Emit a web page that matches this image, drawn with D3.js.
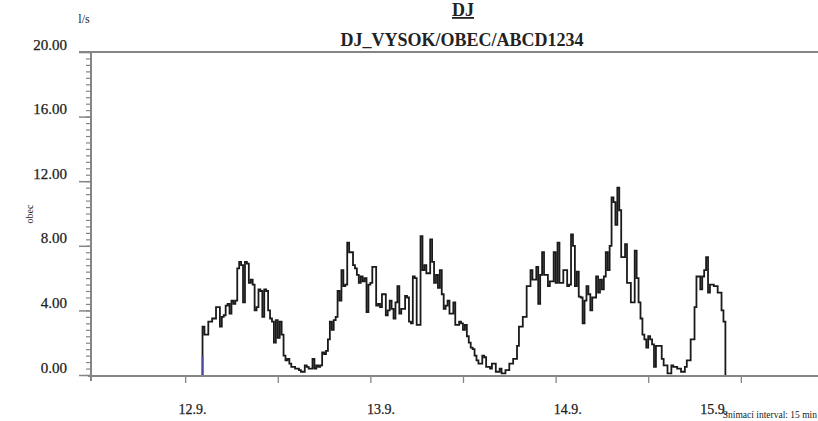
<!DOCTYPE html>
<html>
<head>
<meta charset="utf-8">
<script src="https://cdn.jsdelivr.net/npm/d3@7"></script>
<style>
  html, body { margin: 0; padding: 0; background: #fff; }
  svg { display: block; }
  text { font-family: "Liberation Serif", "Times New Roman", serif; fill: #222; }
</style>
</head>
<body>
<svg id="chart" width="818" height="421"></svg>
<script>
// ---- data ----
const titleMain = "DJ";
const titleSub = "DJ_VYSOK/OBEC/ABCD1234";
const unitLabel = "l/s";
const seriesName = "obec";
const footnote = "Snímací interval: 15 min";
// time in hours relative to 12.9. 00:00
const startHour = 2.25;
const stepHours = 0.25; // 15 min
const flow = [
  3.0, 2.5, 2.5, 3.3, 3.3, 3.5, 3.5, 4.2, 4.2, 3.0,
  3.6, 3.7, 4.3, 4.4, 3.8, 4.6, 4.4, 4.6, 6.6, 7.0,
  6.8, 4.5, 7.0, 6.9, 5.7, 5.9, 5.6, 4.0, 4.2, 5.3,
  5.2, 3.6, 5.3, 5.2, 4.0, 3.5, 3.3, 2.0, 3.4, 2.3,
  3.3, 2.5, 1.2, 0.9, 1.0, 0.7, 0.5, 0.5, 0.4, 0.4,
  0.3, 0.2, 0.2, 0.6, 0.5, 0.4, 0.4, 1.0, 0.4, 0.6,
  0.5, 0.6, 1.4, 1.3, 1.5, 2.2, 3.3, 2.8, 3.4, 3.6,
  5.2, 4.6, 6.5, 5.5, 5.6, 8.2, 7.6, 7.6, 6.8, 6.6,
  6.2, 5.7, 6.1, 5.8, 6.0, 3.9, 5.6, 5.7, 6.7, 6.7,
  4.3, 4.4, 4.2, 5.0, 5.0, 3.7, 4.0, 4.6, 4.1, 3.5,
  4.5, 5.5, 3.8, 4.1, 4.1, 4.9, 4.8, 3.3, 3.2, 6.1,
  6.0, 3.1, 3.1, 8.6, 6.5, 6.8, 6.3, 6.3, 8.4, 7.0,
  5.7, 6.2, 5.4, 6.5, 5.0, 4.1, 4.3, 4.6, 3.8, 3.8,
  4.5, 3.1, 3.1, 3.3, 3.2, 2.8, 3.1, 2.4, 2.0, 1.7,
  1.6, 1.2, 0.9, 0.7, 0.7, 1.2, 1.1, 0.5, 0.5, 0.4,
  0.7, 0.7, 0.2, 0.2, 0.4, 0.1, 0.1, 0.3, 0.3, 0.7,
  0.7, 1.0, 1.0, 1.8, 3.0, 3.0, 3.6, 3.6, 5.5, 5.5,
  6.5, 5.9, 5.9, 6.7, 4.4, 6.2, 7.6, 6.2, 6.2, 5.5,
  5.8, 5.8, 7.6, 5.7, 8.2, 5.7, 5.7, 6.5, 6.5, 5.5,
  5.6, 8.7, 8.0, 5.5, 6.4, 4.85, 4.8, 3.2, 4.6, 5.5,
  5.0, 4.0, 4.8, 4.8, 6.1, 5.1, 5.9, 5.3, 6.1, 7.6,
  6.5, 8.0, 11.0, 10.7, 9.3, 11.6, 10.2, 7.3, 7.3, 8.1,
  5.7, 5.7, 4.5, 4.5, 7.7, 6.0, 4.5, 3.5, 2.5, 2.2,
  1.7, 2.4, 2.2, 1.9, 0.5, 1.8, 1.8, 1.8, 1.0, 0.6,
  0.6, 0.1, 0.1, 0.6, 0.5, 0.5, 0.4, 0.4, 0.2, 0.2,
  0.5, 0.9, 0.9, 2.2, 2.2, 4.2, 6.1, 6.1, 5.3, 6.1,
  6.5, 7.3, 5.1, 5.6, 5.6, 5.5, 5.5, 5.1, 5.1, 4.0, 3.3
];
const startMarkerValue = 1.2;
const yMajorTicks = [0, 4, 8, 12, 16, 20];
const yMinorStep = 0.4;
const xTickHours = [0, 12, 24, 36, 48, 60, 72];
const dayLabels = ["12.9.", "13.9.", "14.9.", "15.9."];
const dayLabelHours = [0.9, 25.3, 49.5, 68.5];
const xDomain = [-12.2, 82.0];
const yDomain = [0, 20];

// ---- drawing ----
const svg = d3.select("#chart");
const x = d3.scaleLinear().domain(xDomain).range([91, 818]);
const y = d3.scaleLinear().domain(yDomain).range([375, 52]);
const axisColor = "#858585";
const textColor = "#1a1a1a";

// titles
svg.append("text").attr("x", 463).attr("y", 16).attr("text-anchor", "middle")
  .attr("font-size", 18).attr("font-weight", "bold").attr("text-decoration", "underline")
  .attr("fill", textColor).text(titleMain);
svg.append("text").attr("x", 462).attr("y", 46).attr("text-anchor", "middle")
  .attr("font-size", 18).attr("font-weight", "bold").attr("fill", textColor).text(titleSub);

// unit + series name
svg.append("text").attr("x", 84).attr("y", 23).attr("text-anchor", "middle")
  .attr("font-size", 12).attr("fill", textColor).text(unitLabel);
svg.append("text").attr("transform", "translate(33,214) rotate(-90)")
  .attr("text-anchor", "middle").attr("font-size", 10).attr("fill", textColor).text(seriesName);

// top border line
svg.append("line").attr("x1", 79).attr("x2", 818).attr("y1", y(20)).attr("y2", y(20))
  .attr("stroke", axisColor).attr("stroke-width", 2);

// y minor ticks
const minor = d3.range(0, yDomain[1] + 1e-6, yMinorStep).map(v => +v.toFixed(2));
const gyMinor = svg.append("g").attr("transform", "translate(91,0)")
  .call(d3.axisLeft(y).tickValues(minor).tickSize(5).tickFormat(""));
gyMinor.select(".domain").remove();
gyMinor.selectAll("line").attr("stroke", axisColor).attr("stroke-width", 1.2);

// y major ticks
const gy = svg.append("g").attr("transform", "translate(91,0)")
  .call(d3.axisLeft(y).tickValues(yMajorTicks).tickSize(12).tickPadding(12).tickFormat(d3.format(".2f")));
gy.select(".domain").remove();
gy.selectAll("line").attr("stroke", axisColor).attr("stroke-width", 1.5);
gy.selectAll("text").attr("font-size", 15).attr("dy", "-0.2em")
  .style("font-family", "'Liberation Serif', serif").attr("fill", textColor)
  .attr("stroke", textColor).attr("stroke-width", 0.25);

// axis lines
svg.append("line").attr("x1", 91).attr("x2", 91).attr("y1", y(20)).attr("y2", 381)
  .attr("stroke", axisColor).attr("stroke-width", 2);
svg.append("line").attr("x1", 88).attr("x2", 818).attr("y1", y(0) + 1).attr("y2", y(0) + 1)
  .attr("stroke", axisColor).attr("stroke-width", 2.2);

// x ticks
const gx = svg.append("g").attr("transform", `translate(0,${y(0) + 2})`)
  .call(d3.axisBottom(x).tickValues(xTickHours).tickSize(6).tickFormat(""));
gx.select(".domain").remove();
gx.selectAll("line").attr("stroke", axisColor).attr("stroke-width", 1.3);

// x day labels
const gxl = svg.append("g").attr("transform", `translate(0,${y(0) + 2})`)
  .call(d3.axisBottom(x).tickValues(dayLabelHours).tickSize(0).tickPadding(27)
    .tickFormat((d, i) => dayLabels[i]));
gxl.select(".domain").remove();
gxl.selectAll("text").attr("font-size", 14).style("font-family", "'Liberation Serif', serif")
  .attr("fill", textColor).attr("stroke", textColor).attr("stroke-width", 0.25);

// data line (step)
const pts = [{ h: startHour, v: 0 }]
  .concat(flow.map((v, i) => ({ h: startHour + i * stepHours, v })))
  .concat([{ h: startHour + flow.length * stepHours, v: flow[flow.length - 1] },
           { h: startHour + flow.length * stepHours, v: 0 }]);
const line = d3.line().x(d => x(d.h)).y(d => y(d.v)).curve(d3.curveStepAfter);
svg.append("path").datum(pts).attr("d", line)
  .attr("fill", "none").attr("stroke", "#1a1a1a").attr("stroke-width", 1.8);

// start marker
svg.append("line").attr("x1", x(startHour)).attr("x2", x(startHour))
  .attr("y1", y(0)).attr("y2", y(startMarkerValue))
  .attr("stroke", "#4a4a9c").attr("stroke-width", 1.8);

// footnote
svg.append("text").attr("x", 817).attr("y", 418).attr("text-anchor", "end")
  .attr("font-size", 9.5).attr("fill", "#444").text(footnote);
</script>
</body>
</html>
